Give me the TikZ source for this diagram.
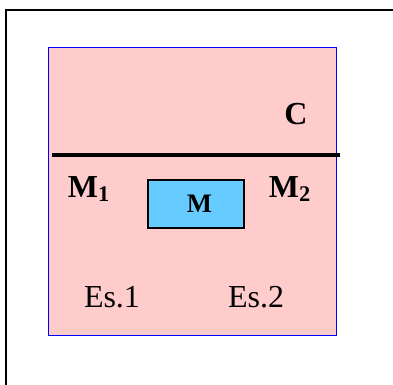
\documentclass[tikz,border=0pt]{standalone}
\usepackage{fontspec}
\setmainfont{Liberation Serif}
\usetikzlibrary{positioning}
\definecolor{mixpink}{HTML}{FFCCCC}
\definecolor{mixblue}{HTML}{0000FF}
\definecolor{boxcyan}{HTML}{66CCFF}

\begin{document}
\begin{tikzpicture}[
  x=0.75pt, y=-0.75pt,
  frame/.style={line width=1.5pt, black},
  vessel/.style={draw=mixblue, line width=1pt, fill=mixpink},
  divider/.style={line width=2.4pt, black},
  mbox/.style={draw=black, line width=0.9pt, fill=boxcyan, inner sep=0pt,
               minimum width=72pt, minimum height=36pt,
               font=\fontsize{20}{24}\selectfont\bfseries},
  boldlab/.style={anchor=base, inner sep=0pt, font=\fontsize{24}{28}\selectfont\bfseries},
  plainlab/.style={anchor=base, inner sep=0pt, font=\fontsize{24}{28}\selectfont},
]
  \useasboundingbox (0,0) rectangle (393,385);

  %% marco exterior (solo lados superior e izquierdo visibles)
  \draw[frame] (6,386) -- (6,10) -- (394,10);

  %% recipiente y membrana
  \draw[vessel] (48.5,47.5) rectangle (336.5,335.5);
  \coordinate (divL) at (52,155);
  \coordinate (divR) at (340,155);
  \draw[divider] (divL) -- (divR);

  %% caja central
  \node[mbox] (mcell) at (196,204) {\hspace{5pt}\raisebox{-3pt}{M}};

  %% etiquetas
  \node[boldlab] (clab)  at (296,125) {C};
  \node[boldlab] (mone)  at (89,197)  {M\textsubscript{1}};
  \node[boldlab] (mtwo)  at (290,197) {M\textsubscript{2}};
  \node[plainlab] (esone) at (112,307) {Es.1};
  \node[plainlab] (estwo) at (256,307) {Es.2};

\end{tikzpicture}
\end{document}
